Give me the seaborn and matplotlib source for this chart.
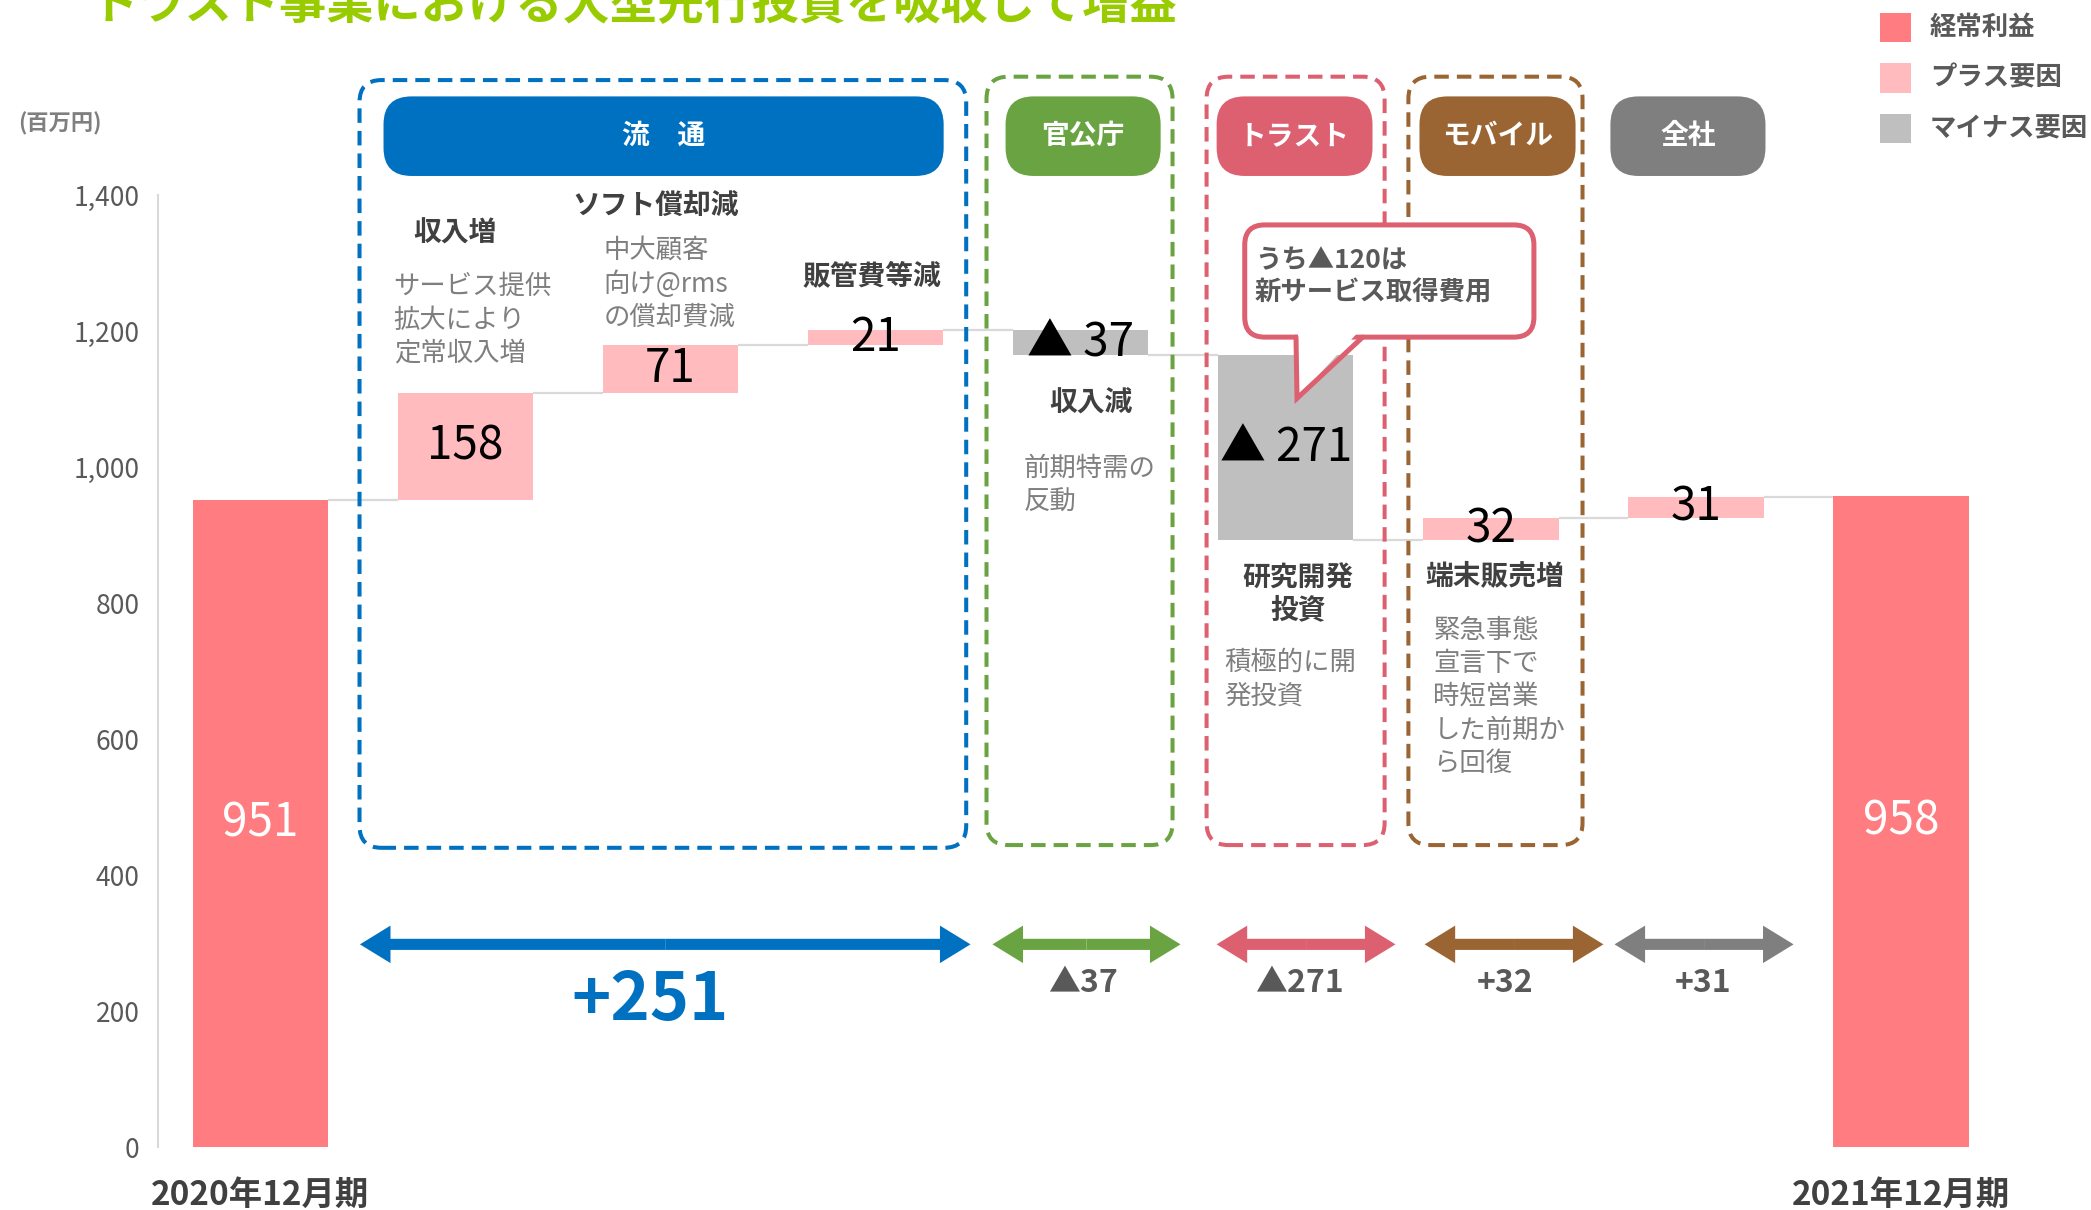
import numpy as np
import pandas as pd
import seaborn as sns
import matplotlib.pyplot as plt
from matplotlib.patches import FancyBboxPatch, FancyArrowPatch, Polygon, Rectangle
from matplotlib.patches import ArrowStyle

# --- données du graphique ---
steps = ["2020年12月期", "収入増", "ソフト償却減", "販管費等減", "収入減",
         "研究開発投資", "端末販売増", "全社", "2021年12月期"]
start_value = 951
end_value = 958
deltas = [158, 71, 21, -37, -271, 32, 31]
value_labels = ["951", "158", "71", "21", "▲ 37", "▲ 271", "32", "31", "958"]
tick_labels = ["2020年12月期", "", "", "", "", "", "", "", "2021年12月期"]
yticks = [0, 200, 400, 600, 800, 1000, 1200, 1400]

segments = ["流　通", "官公庁", "トラスト", "モバイル", "全社"]
segment_colors = ["#0070C0", "#6AA341", "#DC6070", "#9A6533", "#7F7F7F"]
segment_totals = ["+251", "▲37", "▲271", "+32", "+31"]

legend_labels = ["経常利益", "プラス要因", "マイナス要因"]
kind_colors = {"total": "#FF7C80", "plus": "#FFBBBE", "minus": "#BFBFBF"}

title = "トラスト事業における大型先行投資を吸収して増益"

# --- calcul du waterfall ---
levels = np.concatenate([[start_value], start_value + np.cumsum(deltas)])
heights = [start_value] + deltas + [end_value]
bottoms = [0] + list(levels[:-1]) + [0]
kinds = ["total"] + ["plus" if d > 0 else "minus" for d in deltas] + ["total"]
df = pd.DataFrame({"step": steps, "height": heights, "bottom": bottoms, "kind": kinds})

sns.set_style("white")
plt.rcParams["font.family"] = ["Noto Sans CJK JP", "DejaVu Sans"]

W, H, DPI = 2091, 1210, 100
fig = plt.figure(figsize=(W / DPI, H / DPI), dpi=DPI)
ax_rect = [157.7 / W, 63 / H, 9 * 205.1 / W, 952 / H]
ax = fig.add_axes(ax_rect)

bar_w = 0.66
sns.barplot(data=df, x="step", y="height", bottom=df["bottom"].values,
            width=bar_w, errorbar=None, color="#FF7C80", saturation=1,
            linewidth=0, ax=ax)
for patch, kind in zip(ax.patches, kinds):
    patch.set_facecolor(kind_colors[kind])
    patch.set_zorder(2)

# lignes de liaison
n = len(steps)
ax.hlines(levels, np.arange(n - 1) + bar_w / 2, np.arange(1, n) - bar_w / 2,
          color="#D9D9D9", lw=1.6, zorder=1)

# étiquettes des barres
for i, (b, h, lab) in enumerate(zip(bottoms, heights, value_labels)):
    col = "white" if kinds[i] == "total" else "black"
    ax.text(i, b + h / 2, lab, ha="center", va="center", fontsize=33,
            color=col, zorder=4)

ax.set_xlim(-0.5, n - 0.5)
ax.set_ylim(0, 1400)
ax.set_yticks(yticks)
ax.set_yticklabels([f"{v:,}" for v in yticks], fontsize=19, color="#595959")
ax.set_xticks(range(n))
ax.set_xticklabels(tick_labels, fontsize=24, fontweight="bold", color="#404040")
ax.tick_params(axis="y", length=0, pad=13)
ax.tick_params(axis="x", length=0, pad=23)
ax.set_xlabel("")
ax.set_ylabel("")
for s in ["top", "right", "bottom"]:
    ax.spines[s].set_visible(False)
ax.spines["left"].set_color("#D9D9D9")
ax.spines["left"].set_linewidth(1.5)

# rapport d'aspect pour les coins arrondis en coordonnées données
px_x = ax_rect[2] * W / n
px_y = ax_rect[3] * H / 1400
aspect = px_x / px_y


def rbox(x0, x1, y0, y1, r_px, **kw):
    p = FancyBboxPatch((x0, y0), x1 - x0, y1 - y0,
                       boxstyle=f"round,pad=0,rounding_size={r_px / px_x}",
                       mutation_aspect=aspect, clip_on=False, **kw)
    ax.add_patch(p)
    return p


# cadres en pointillés
dash_boxes = [(0.484, 3.442, 440, 1569), (3.541, 4.448, 444, 1574),
              (4.614, 5.482, 444, 1574), (5.598, 6.447, 444, 1574)]
for (x0, x1, y0, y1), c in zip(dash_boxes, segment_colors):
    rbox(x0, x1, y0, y1, 22, facecolor="none", edgecolor=c, lw=2.9,
         linestyle=(0, (3.6, 2.0)), zorder=3)

# pastilles de segment
pills = [(0.601, 3.332), (3.634, 4.390), (4.663, 5.423), (5.652, 6.413), (6.583, 7.339)]
for (x0, x1), c, name in zip(pills, segment_colors, segments):
    rbox(x0, x1, 1428, 1545, 28, facecolor=c, edgecolor="none", zorder=3)
    ax.text((x0 + x1) / 2, 1487, name, ha="center", va="center", fontsize=20,
            fontweight="bold", color="white", zorder=4)

# flèches doubles et totaux
arrows = [(0.486, 3.463), (3.570, 4.487), (4.663, 5.535), (5.677, 6.549), (6.603, 7.476)]
arrow_y = 298
style = ArrowStyle.Simple(head_length=22, head_width=27, tail_width=8)
for (x0, x1), c in zip(arrows, segment_colors):
    mid = (x0 + x1) / 2
    for end in (x0, x1):
        ax.add_patch(FancyArrowPatch((mid, arrow_y), (end, arrow_y), arrowstyle=style,
                                     mutation_scale=1, shrinkA=0, shrinkB=0,
                                     color=c, lw=0, clip_on=False, zorder=3))
total_pos = [(1.903, 216, 48, "#0070C0"), (4.009, 241, 23, "#595959"),
             (5.067, 241, 23, "#595959"), (6.069, 241, 23, "#595959"),
             (7.037, 241, 23, "#595959")]
for (x, y, fs, c), lab in zip(total_pos, segment_totals):
    ax.text(x, y, lab, ha="center", va="center", fontsize=fs, fontweight="bold", color=c)

# titres et commentaires
heads = [("収入増", 0.95, 1343), ("ソフト償却減", 1.93, 1383), ("販管費等減", 2.98, 1281),
         ("収入減", 4.05, 1093), ("研究開発\n投資", 5.06, 812), ("端末販売増", 6.02, 840)]
for lab, x, y in heads:
    ax.text(x, y, lab, ha="center", va="center", fontsize=20, fontweight="bold",
            color="#404040", linespacing=1.15)
notes = [("サービス提供\n拡大により\n定常収入増", 0.65, 1216),
         ("中大顧客\n向け@rms\nの償却費減", 1.673, 1269),
         ("前期特需の\n反動", 3.72, 973),
         ("積極的に開\n発投資", 4.70, 688),
         ("緊急事態\n宣言下で\n時短営業\nした前期か\nら回復", 5.72, 662)]
for lab, x, y in notes:
    ax.text(x, y, lab, ha="left", va="center", fontsize=19, color="#7F7F7F",
            linespacing=1.3)

# bulle
rbox(4.80, 6.21, 1191, 1356, 20, facecolor="white", edgecolor="#DC6070", lw=3.6, zorder=6)
tail_x = [5.05, 5.055, 5.375]
tail_y = [1191, 1101, 1191]
ax.add_patch(Polygon([[5.05 + 0.01, 1199], [5.055, 1101], [5.375 - 0.02, 1199]],
                     closed=True, facecolor="white", edgecolor="none", zorder=7,
                     clip_on=False))
ax.plot(tail_x, tail_y, color="#DC6070", lw=3.6, zorder=8, solid_joinstyle="miter",
        clip_on=False)
ax.text(4.85, 1280, "うち▲120は\n新サービス取得費用", ha="left", va="center", fontsize=19,
        fontweight="bold", color="#595959", linespacing=1.25, zorder=9)

# titre, unité, légende
fig.text(91 / W, 1 - 19 / H, title, fontsize=34, fontweight="bold", color="#99CC00",
         ha="left", va="baseline")
fig.text(60 / W, 1 - 124 / H, "(百万円)", fontsize=16, fontweight="bold",
         color="#7F7F7F", ha="center", va="center")
for k, (lab, kind) in enumerate(zip(legend_labels, ["total", "plus", "minus"])):
    yc = 27.5 + 50.5 * k
    fig.add_artist(Rectangle((1880 / W, 1 - (yc + 14.5) / H), 31 / W, 29 / H,
                             transform=fig.transFigure, facecolor=kind_colors[kind],
                             edgecolor="none"))
    fig.text(1930 / W, 1 - yc / H, lab, fontsize=19, fontweight="bold", color="#595959",
             ha="left", va="center")

fig.savefig("out.png", dpi=DPI)
